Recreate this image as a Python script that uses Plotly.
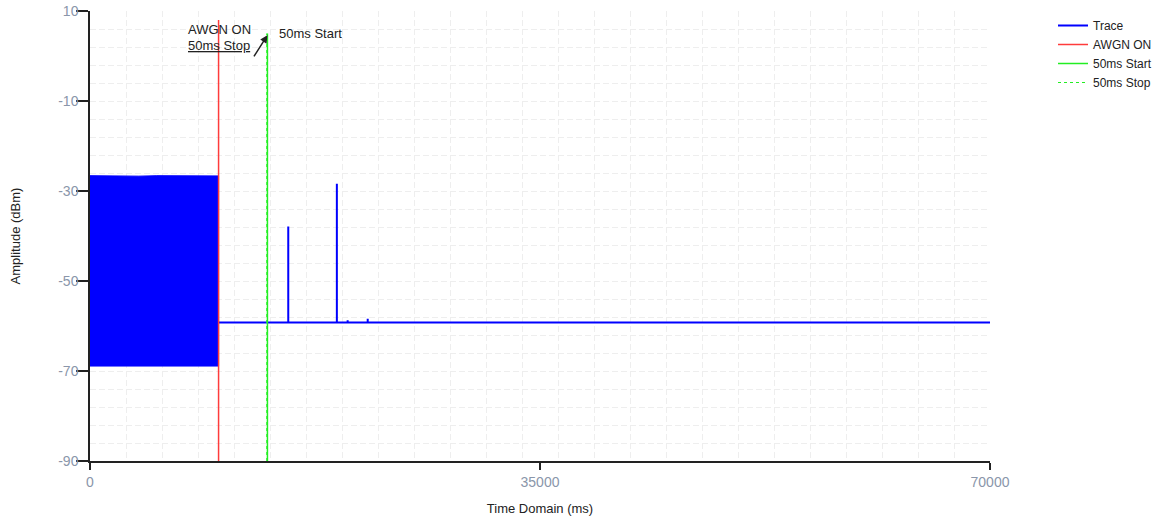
import plotly.graph_objects as go

# ---------------- data ----------------
# Noisy AWGN block (0 .. 10000 ms): upper / lower envelope readings
block_t = [0, 1200, 2500, 3800, 5200, 6500, 7800, 9000, 10000]
block_top = [-26.6, -26.65, -26.6, -26.7, -26.6, -26.65, -26.6, -26.7, -26.65]
block_bottom = [-68.9, -68.9, -68.9, -68.9, -68.9, -68.9, -68.9, -68.9, -68.9]

# Trace after AWGN switched on
base_start = 10000
base_end = 70000
base_amp = -59.2
spike_t = [15420, 19200, 20040, 21600]
spike_amp = [-37.9, -28.4, -58.7, -58.4]

# Markers
awgn_on_t = 10000
awgn_on_top = 8
start_50ms_t = 13800
stop_50ms_t = 13750
marker_green_top = 5

x_ticks = [0, 35000, 70000]
y_ticks = [-90, -70, -50, -30, -10, 10]

# ---------------- build series ----------------
tr_x = [base_start]
tr_y = [base_amp]
for t, a in zip(spike_t, spike_amp):
    tr_x += [t, t, t]
    tr_y += [base_amp, a, base_amp]
tr_x.append(base_end)
tr_y.append(base_amp)

BLUE = "#0000ff"
RED = "#ff3b3b"
GREEN = "#22ee22"
FONT = "Liberation Sans"
TXT = "#222"

fig = go.Figure()

# filled block (part of Trace)
fig.add_trace(go.Scatter(
    x=block_t + block_t[::-1],
    y=block_top + block_bottom[::-1],
    fill="toself", fillcolor=BLUE, mode="lines",
    line=dict(color=BLUE, width=1),
    legendgroup="trace", showlegend=False, hoverinfo="skip"))

fig.add_trace(go.Scatter(
    x=tr_x, y=tr_y, mode="lines", name="Trace",
    line=dict(color=BLUE, width=2), legendgroup="trace"))

fig.add_trace(go.Scatter(
    x=[awgn_on_t, awgn_on_t], y=[-90, awgn_on_top], mode="lines",
    name="AWGN ON", line=dict(color=RED, width=1.5)))

fig.add_trace(go.Scatter(
    x=[start_50ms_t, start_50ms_t], y=[-90, marker_green_top], mode="lines",
    name="50ms Start", line=dict(color=GREEN, width=1.5)))

fig.add_trace(go.Scatter(
    x=[stop_50ms_t, stop_50ms_t], y=[-90, marker_green_top], mode="lines",
    name="50ms Stop", line=dict(color=GREEN, width=1, dash="dot")))

# annotations
fig.add_annotation(x=7450, y=5.8, text="AWGN ON", showarrow=False,
                   xanchor="left", yanchor="middle",
                   font=dict(family=FONT, size=13, color=TXT))
fig.add_annotation(x=7450, y=2.3, text="<u>50ms Stop</u>", showarrow=False,
                   xanchor="left", yanchor="middle",
                   font=dict(family=FONT, size=13, color=TXT))
fig.add_annotation(x=start_50ms_t, y=4.6, ax=12680, ay=-0.4,
                   axref="x", ayref="y", text="", showarrow=True,
                   arrowhead=2, arrowsize=1, arrowwidth=1.5, arrowcolor=TXT)
fig.add_annotation(x=14550, y=5.1, text="50ms Start", showarrow=False,
                   xanchor="left", yanchor="middle",
                   font=dict(family=FONT, size=13, color=TXT))

GRID = "#eeeeee"
fig.update_xaxes(
    range=[0, 70000], tickvals=x_ticks, ticktext=[str(v) for v in x_ticks],
    showgrid=False, zeroline=False, automargin=False,
    ticklabeloverflow="allow",
    showline=True, linecolor="#222", linewidth=1.5,
    ticks="outside", ticklen=7, tickcolor="#222", tickwidth=1.5,
    tickfont=dict(family=FONT, size=14, color="#8a96aa"),
    minor=dict(tick0=0, dtick=2800, showgrid=True, gridcolor=GRID,
               griddash="6px,3px", gridwidth=1, ticks=""),
    title=dict(text="Time Domain (ms)", standoff=15,
               font=dict(family=FONT, size=13, color=TXT)))
fig.update_yaxes(
    range=[-90, 10], tickvals=y_ticks, ticktext=[str(v) for v in y_ticks],
    showgrid=True, gridcolor=GRID, griddash="6px,3px", gridwidth=1,
    zeroline=False, automargin=False,
    ticklabeloverflow="allow", ticklabelstandoff=-5,
    showline=True, linecolor="#222", linewidth=1.5,
    ticks="outside", ticklen=12, tickcolor="#222", tickwidth=1.5,
    tickfont=dict(family=FONT, size=14, color="#8a96aa"),
    minor=dict(tick0=-90, dtick=4, showgrid=True, gridcolor=GRID,
               griddash="6px,3px", gridwidth=1, ticks=""),
    title=dict(text="Amplitude (dBm)", standoff=35,
               font=dict(family=FONT, size=13, color=TXT)))

fig.update_layout(
    width=1171, height=522,
    margin=dict(l=90, r=181, t=11, b=61, autoexpand=False),
    plot_bgcolor="white", paper_bgcolor="white",
    font=dict(family=FONT, size=13, color=TXT),
    legend=dict(x=1.07, y=1.0, xanchor="left", yanchor="top",
                bgcolor="rgba(0,0,0,0)", tracegroupgap=0,
                font=dict(family=FONT, size=12, color=TXT),
                itemwidth=30),
    showlegend=True)

# remove the default page margin so the figure fills the window exactly
fig.write_html("out.html", config={"displayModeBar": False},
               post_script="document.body.style.margin='0';")
